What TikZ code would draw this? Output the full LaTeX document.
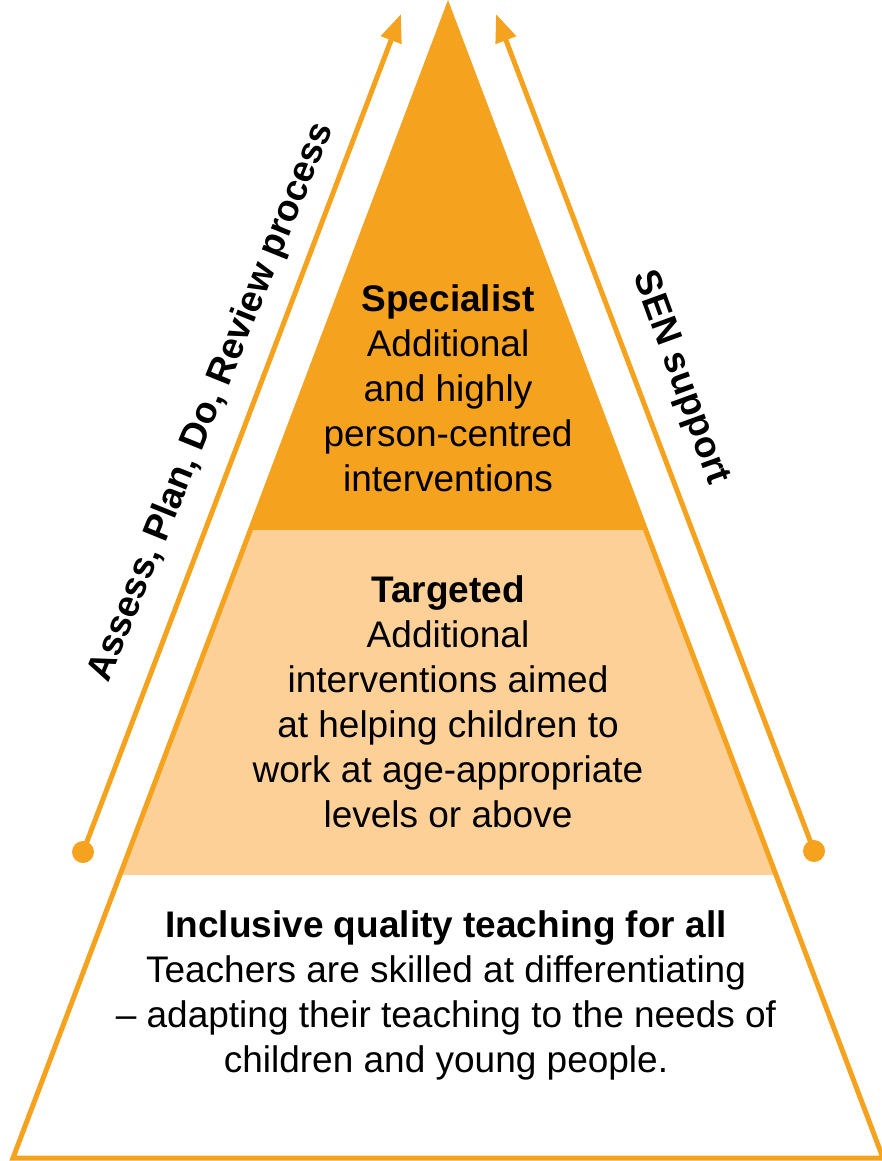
\documentclass[tikz,border=0pt]{standalone}
\usepackage{fontspec}
\setmainfont{Liberation Sans}
\usetikzlibrary{arrows.meta}
\definecolor{dorange}{HTML}{F5A31E}
\definecolor{lorange}{HTML}{FCD096}
\tikzset{
  txt/.style={align=center, font=\fontsize{37}{45}\selectfont, text=black, inner sep=0pt},
  side/.style={draw=dorange, line width=5pt},
  sidearrow/.style={draw=dorange, line width=5pt, -{Triangle[length=28pt,width=21pt]}},
  dot/.style={circle, fill=dorange, minimum size=22pt, inner sep=0pt}
}
\begin{document}
\begin{tikzpicture}[x=1pt,y=-1pt]
\useasboundingbox (0,0) rectangle (881,1161);
\coordinate (apex) at (448,7);
\coordinate (bl) at (13,1158);
\coordinate (br) at (883,1158);
% bands
\fill[dorange] (apex) -- (250.3,530) -- (645.7,530) -- cycle;
\fill[lorange] (250.3,530) -- (120,875) -- (776,875) -- (645.7,530) -- cycle;
% outline
\draw[side, line join=miter] (apex) -- (bl) -- (br) -- cycle;
% arrows
\node[dot] (dl) at (83,852) {};
\node[dot] (dr) at (814,851) {};
\coordinate (tl) at (401,14);
\coordinate (tr) at (496,14);
\draw[sidearrow] (dl.center) -- (tl);
\draw[sidearrow] (dr.center) -- (tr);
% texts
\node[txt] (spec) at (448,388) {\textbf{Specialist}\\Additional\\and highly\\person-centred\\interventions};
\node[txt] (targ) at (448,702) {\textbf{Targeted}\\Additional\\interventions aimed\\at helping children to\\work at age-appropriate\\levels or above};
\node[txt] (incl) at (446,995) {\textbf{Inclusive quality teaching for all}\\Teachers are skilled at differentiating\\– adapting their teaching to the needs of\\children and young people.};
\node[txt, rotate=68] (apdr) at (212,402) {\textbf{Assess, Plan, Do, Review process}};
\node[txt, rotate=-70] (sen) at (680,378) {\textbf{SEN support}};
\end{tikzpicture}
\end{document}
